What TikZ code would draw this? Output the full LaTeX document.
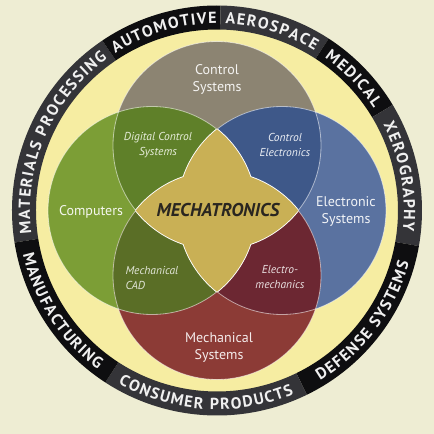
\documentclass[tikz,border=0pt]{standalone}
\usepackage{fontspec}
\setmainfont{PT Sans}
\usetikzlibrary{decorations.text}
\definecolor{bg}{HTML}{EEEDD3}
\definecolor{yel}{HTML}{F6EDA2}
\definecolor{segblack}{HTML}{0E0E10}
\definecolor{seggray}{HTML}{343438}
\definecolor{ringtext}{HTML}{F0F0F0}
\definecolor{tanc}{HTML}{8C8472}
\definecolor{greenc}{HTML}{7C9E36}
\definecolor{bluec}{HTML}{5A72A0}
\definecolor{redc}{HTML}{8C3B36}
\definecolor{dgreen}{HTML}{5F8029}
\definecolor{dblue}{HTML}{3E5889}
\definecolor{olive}{HTML}{5A6E26}
\definecolor{dred}{HTML}{6C2732}
\definecolor{goldc}{HTML}{C9B055}
\definecolor{mechtext}{HTML}{2A2620}
\newcommand{\ringfmt}{\bfseries\fontsize{16}{16}\selectfont}
\newcommand{\ringseg}[5]{%
  \fill[#3] (#1:205) arc[start angle=#1,end angle=#2,radius=205] -- (#2:181)
     arc[start angle=#2,end angle=#1,radius=181] -- cycle;
  \path[decorate,decoration={text effects along path,text align=center,
     text={#4},
     text effects/.cd,
       text along path,
       characters={text=ringtext,font=\ringfmt,inner sep=0pt},
       character widths={font=\ringfmt,inner xsep=0.7pt}}]
     (#1:#5) arc[start angle=#1,end angle=#2,radius=#5];
}
\begin{document}
\begin{tikzpicture}[x=1pt,y=1pt,
  circline/.style={draw=white,draw opacity=0.55,line width=0.8pt},
  bigl/.style={text=#1,align=center,font=\fontsize{14}{17}\selectfont},
  smalll/.style={text=#1,align=center,font=\itshape\fontsize{11.5}{15}\selectfont}]
\useasboundingbox (-217,-223.5) rectangle (217,210.5);
\fill[bg] (-217,-223.5) rectangle (217,210.5);
\fill[yel] (0,0) circle (182);
% ring
\ringseg{189}{124}{seggray}{MATERIALS PROCESSING}{187}
\ringseg{124}{89}{segblack}{AUTOMOTIVE}{187}
\ringseg{89}{57}{seggray}{AEROSPACE}{187}
\ringseg{57}{31}{segblack}{MEDICAL}{187}
\ringseg{31}{-10}{seggray}{XEROGRAPHY}{187}
\ringseg{-64}{-10}{segblack}{DEFENSE SYSTEMS}{199}
\ringseg{-123}{-64}{seggray}{CONSUMER PRODUCTS}{199}
\ringseg{189}{237}{segblack}{MANUFACTURING}{199}
% venn circles
\coordinate (T) at (0,65);
\coordinate (L) at (-65,0);
\coordinate (R) at (65,0);
\coordinate (B) at (0,-65);
\fill[tanc] (T) circle (104);
\fill[greenc] (L) circle (104);
\fill[bluec] (R) circle (104);
\fill[redc] (B) circle (104);
\begin{scope}\clip (T) circle (104); \fill[dgreen] (L) circle (104); \end{scope}
\begin{scope}\clip (T) circle (104); \fill[dblue] (R) circle (104); \end{scope}
\begin{scope}\clip (B) circle (104); \fill[olive] (L) circle (104); \end{scope}
\begin{scope}\clip (B) circle (104); \fill[dred] (R) circle (104); \end{scope}
\draw[circline] (T) circle (104);
\draw[circline] (L) circle (104);
\draw[circline] (R) circle (104);
\draw[circline] (B) circle (104);
% gold centre: union of two lenses, white edge
\begin{scope}\clip (L) circle (104); \draw[white,line width=1.8pt] (R) circle (104); \end{scope}
\begin{scope}\clip (R) circle (104); \draw[white,line width=1.8pt] (L) circle (104); \end{scope}
\begin{scope}\clip (T) circle (104); \draw[white,line width=1.8pt] (B) circle (104); \end{scope}
\begin{scope}\clip (B) circle (104); \draw[white,line width=1.8pt] (T) circle (104); \end{scope}
\begin{scope}\clip (L) circle (104); \fill[goldc] (R) circle (104); \end{scope}
\begin{scope}\clip (T) circle (104); \fill[goldc] (B) circle (104); \end{scope}
% labels
\node[bigl={white!90!tanc}] (cs) at (0,131.5) {Control\\Systems};
\node[bigl={white!92!greenc}] (comp) at (-126,-1.5) {Computers};
\node[bigl={white!92!bluec}] (es) at (129,-0.5) {Electronic\\Systems};
\node[bigl={white!90!redc}] (ms) at (2,-136.5) {Mechanical\\Systems};
\node[smalll={white!82!greenc}] (dcs) at (-59,65.5) {Digital Control\\Systems};
\node[smalll={white!88!bluec}] (ce) at (68,65.5) {Control\\Electronics};
\node[smalll={white!82!olive},align=left,anchor=west] (mcad) at (-95,-67) {Mechanical\\CAD};
\node[smalll={white!85!dred}] (em) at (63,-67) {Electro-\\mechanics};
\node[text=mechtext,font=\bfseries\itshape\fontsize{18.5}{18.5}\selectfont] (mech) at (1,0.5) {MECHATRONICS};
\end{tikzpicture}
\end{document}
